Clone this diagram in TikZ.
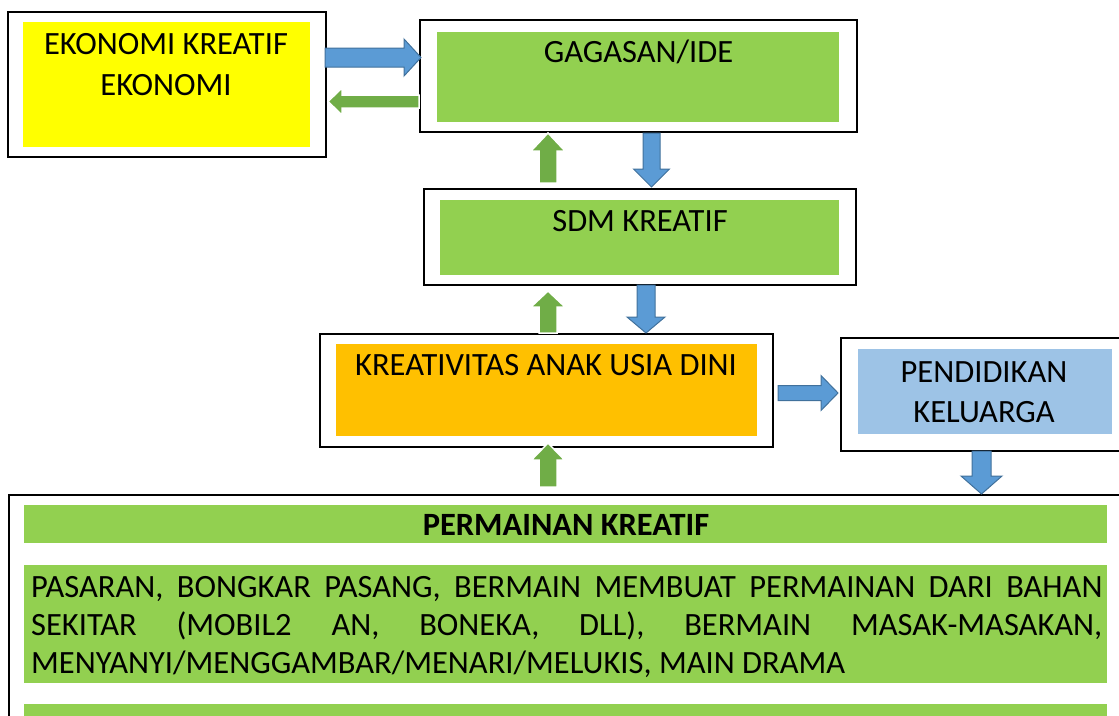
\documentclass[tikz,border=0pt]{standalone}
\usepackage{fontspec}
\setmainfont{Carlito}
\usetikzlibrary{calc}
\definecolor{yel}{HTML}{FFFF00}
\definecolor{grn}{HTML}{92D050}
\definecolor{org}{HTML}{FFC000}
\definecolor{lblue}{HTML}{9DC3E6}
\definecolor{ablue}{HTML}{5B9BD5}
\definecolor{ablueline}{HTML}{41719C}
\definecolor{agreen}{HTML}{70AD47}
\newcommand\blockarrow[6]{%
  \coordinate (BAh) at ($(#3)!#6pt!(#2)$);
  \draw[#1] ($(#2)!#4pt!90:(#3)$) -- ($(BAh)!#4pt!90:(#3)$) -- ($(BAh)!#5pt!90:(#3)$) -- (#3)
    -- ($(BAh)!#5pt!-90:(#3)$) -- ($(BAh)!#4pt!-90:(#3)$) -- ($(#2)!#4pt!-90:(#3)$) -- cycle;}
\tikzset{
  outerbox/.style={draw=black, line width=2pt, fill=white, rectangle, inner sep=0pt},
  fillbox/.style={rectangle, inner sep=0pt, draw=none},
  lbl/.style={anchor=base, inner sep=0pt, font=\fontsize{32.5}{39}\selectfont},
  bodyline/.style={anchor=base west, inner sep=0pt, font=\fontsize{32.5}{39}\selectfont},
  bluearrow/.style={fill=ablue, draw=ablueline, line width=1pt, line join=miter},
  greenarrow/.style={fill=agreen, draw=white, line width=1.5pt, line join=miter},
}
\begin{document}
\begin{tikzpicture}[x=1pt, y=-1pt]
\useasboundingbox (0,0) rectangle (1119,715);
\clip (0,0) rectangle (1119,715);
% boxes
\node[outerbox, minimum width=318pt, minimum height=145pt] (ekoout) at (167,84.5) {};
\node[fillbox, fill=yel, minimum width=287pt, minimum height=125pt] (ekofill) at (166.5,84.5) {};
\node[lbl] (eko1) at (166,54) {EKONOMI KREATIF};
\node[lbl] (eko2) at (166,95) {EKONOMI};

\node[outerbox, minimum width=437pt, minimum height=112pt] (gagout) at (638.5,76) {};
\node[fillbox, fill=grn, minimum width=402pt, minimum height=90pt] (gagfill) at (638,77) {};
\node[lbl] (gag) at (638.5,62) {GAGASAN/IDE};

\node[outerbox, minimum width=432pt, minimum height=96pt] (sdmout) at (640,237) {};
\node[fillbox, fill=grn, minimum width=399pt, minimum height=75pt] (sdmfill) at (639.5,237.5) {};
\node[lbl] (sdm) at (640,231) {SDM KREATIF};

\node[outerbox, minimum width=453pt, minimum height=113pt] (kreout) at (546.5,390.5) {};
\node[fillbox, fill=org, minimum width=421pt, minimum height=92pt] (krefill) at (546.5,390) {};
\node[lbl] (kre) at (546,375) {KREATIVITAS ANAK USIA DINI};

\node[outerbox, minimum width=284pt, minimum height=113pt] (penout) at (983,394.5) {};
\node[fillbox, fill=lblue, minimum width=254pt, minimum height=85pt] (penfill) at (985,391.5) {};
\node[lbl] (pen1) at (984,382) {PENDIDIKAN};
\node[lbl] (pen2) at (984,422) {KELUARGA};

\node[outerbox, minimum width=1121pt, minimum height=235pt] (botout) at (569.5,612.5) {};
\node[fillbox, fill=grn, minimum width=1083pt, minimum height=38pt] (bar1) at (565.5,524) {};
\node[fillbox, fill=grn, minimum width=1083pt, minimum height=118pt] (bar2) at (565.5,624) {};
\node[fillbox, fill=grn, minimum width=1083pt, minimum height=26pt] (bar3) at (565.5,717) {};
\node[lbl, font=\fontsize{32.5}{39}\selectfont\bfseries] (title) at (566,535) {PERMAINAN KREATIF};
\node[bodyline] (l1) at (31,597) {\makebox[1071pt][s]{PASARAN, BONGKAR PASANG, BERMAIN MEMBUAT PERMAINAN DARI BAHAN}};
\node[bodyline] (l2) at (31,635) {\makebox[1071pt][s]{SEKITAR (MOBIL2 AN, BONEKA, DLL), BERMAIN MASAK-MASAKAN,}};
\node[bodyline] (l3) at (31,673) {MENYANYI/MENGGAMBAR/MENARI/MELUKIS, MAIN DRAMA};

% arrow end points
\coordinate (a1s) at (325,57.5);   \coordinate (a1e) at (421,57.5);
\coordinate (a2s) at (419,101.5);  \coordinate (a2e) at (328,101.5);
\coordinate (a3s) at (548,183);    \coordinate (a3e) at (548,133);
\coordinate (a4s) at (651.5,133);  \coordinate (a4e) at (651.5,187);
\coordinate (a5s) at (548,333);    \coordinate (a5e) at (548,291);
\coordinate (a6s) at (646,285);    \coordinate (a6e) at (646,333);
\coordinate (a7s) at (778,393);    \coordinate (a7e) at (838,393);
\coordinate (a8s) at (548,487);    \coordinate (a8e) at (548,443);
\coordinate (a9s) at (981.5,451);  \coordinate (a9e) at (981.5,494);

\blockarrow{bluearrow}{a1s}{a1e}{9.5}{18.5}{17}
\blockarrow{greenarrow}{a2s}{a2e}{6.5}{13.5}{14}
\blockarrow{greenarrow}{a3s}{a3e}{9}{17}{18}
\blockarrow{bluearrow}{a4s}{a4e}{8.5}{18}{18}
\blockarrow{greenarrow}{a5s}{a5e}{9}{17}{16}
\blockarrow{bluearrow}{a6s}{a6e}{9}{19}{16}
\blockarrow{bluearrow}{a7s}{a7e}{7.5}{17.5}{17}
\blockarrow{greenarrow}{a8s}{a8e}{9}{16.5}{17}
\blockarrow{bluearrow}{a9s}{a9e}{9.5}{20.5}{18}
\end{tikzpicture}
\end{document}
